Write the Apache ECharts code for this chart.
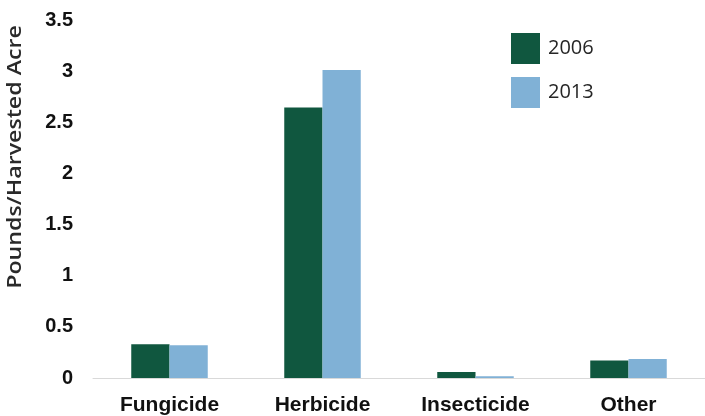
<!DOCTYPE html>
<html>
<head>
<meta charset="utf-8">
<script src="https://cdn.jsdelivr.net/npm/echarts@6/dist/echarts.min.js"></script>
<style>html,body{margin:0;padding:0;background:#fff}#c{width:705px;height:416px}</style>
</head>
<body>
<div id="c"></div>
<script>
const categories = ['Fungicide', 'Herbicide', 'Insecticide', 'Other'];
const seriesNames = ['2006', '2013'];
const values2006 = [0.33, 2.645, 0.058, 0.172];
const values2013 = [0.32, 3.01, 0.018, 0.185];
const yTicks = { min: 0, max: 3.5, interval: 0.5 };
const yTitle = 'Pounds/Harvested Acre';

const chart = echarts.init(document.getElementById('c'), null, { renderer: 'canvas' });
chart.setOption({
  animation: false,
  backgroundColor: '#ffffff',
  grid: { left: 93, right: -4, top: 20, bottom: 36, containLabel: false },
  legend: {
    orient: 'vertical',
    left: 511,
    top: 33,
    padding: 0,
    itemWidth: 29,
    itemHeight: 31,
    itemGap: 13,
    icon: 'rect',
    textStyle: { fontFamily: 'Open Sans', fontSize: 20, color: '#262626', padding: [0, 0, 0, 3] },
    data: seriesNames
  },
  xAxis: {
    type: 'category',
    data: categories,
    axisLine: { show: true, lineStyle: { color: '#d9d9d9', width: 1 } },
    axisTick: { show: false },
    axisLabel: { margin: 17, fontFamily: 'Liberation Sans, Arial', fontWeight: 'bold', fontSize: 21, color: '#111' }
  },
  yAxis: {
    type: 'value',
    min: yTicks.min,
    max: yTicks.max,
    interval: yTicks.interval,
    axisLine: { show: false },
    axisTick: { show: false },
    splitLine: { show: false },
    axisLabel: { margin: 20, fontFamily: 'Liberation Sans, Arial', fontWeight: 'bold', fontSize: 20, color: '#111',
      formatter: v => String(v) }
  },
  graphic: [{
    type: 'text',
    x: 15.5,
    y: 157,
    rotation: Math.PI / 2,
    scaleX: 1.22,
    style: {
      text: yTitle,
      fontFamily: 'Open Sans',
      fontWeight: 600,
      fontSize: 19,
      fill: '#2a2a2a',
      align: 'center',
      verticalAlign: 'middle'
    }
  }],
  series: [
    { name: seriesNames[0], type: 'bar', data: values2006, barGap: '0%', barCategoryGap: '50%',
      itemStyle: { color: '#10573f' } },
    { name: seriesNames[1], type: 'bar', data: values2013, barGap: '0%', barCategoryGap: '50%',
      itemStyle: { color: '#80b1d6' } }
  ]
});
</script>
</body>
</html>
